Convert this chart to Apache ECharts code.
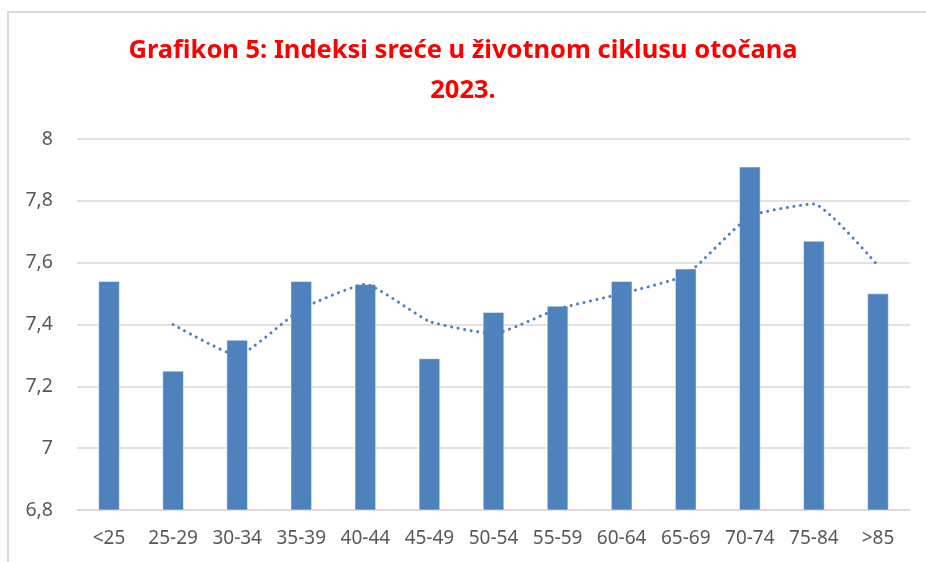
<!DOCTYPE html>
<html>
<head>
<meta charset="utf-8">
<script src="https://cdn.jsdelivr.net/npm/echarts@6/dist/echarts.min.js"></script>
<style>
  html, body { margin: 0; padding: 0; background: #fff; }
  #chart { width: 926px; height: 562px; }
</style>
</head>
<body>
<div id="chart"></div>
<script>
// kategorije dobi
const ageGroups = ['<25', '25-29', '30-34', '35-39', '40-44', '45-49', '50-54', '55-59', '60-64', '65-69', '70-74', '75-84', '>85']
// indeks sreće po dobnoj skupini
const happiness = [7.54, 7.25, 7.35, 7.54, 7.53, 7.29, 7.44, 7.46, 7.54, 7.58, 7.91, 7.67, 7.50]
// točkasta linija trenda (očitano sa slike)
const trend = [null, 7.40, 7.30, 7.45, 7.53, 7.41, 7.37, 7.45, 7.50, 7.56, 7.75, 7.79, 7.59]

const chart = echarts.init(document.getElementById('chart'))
chart.setOption({
  animation: false,
  title: {
    text: 'Grafikon 5: Indeksi sreće u životnom ciklusu otočana\n2023.',
    left: 'center',
    top: 26,
    textStyle: { color: '#ff0000', fontFamily: 'Noto Sans', fontWeight: 'bold', fontSize: 25.5, lineHeight: 40 }
  },
  graphic: [{
    type: 'rect',
    shape: { x: 8, y: 12, width: 940, height: 600 },
    style: { fill: 'none', stroke: '#d9d9d9', lineWidth: 2 }
  }],
  grid: { left: 77, right: 16, top: 139, bottom: 52 },
  xAxis: {
    type: 'category',
    data: ageGroups,
    axisLine: { lineStyle: { color: '#d9d9d9', width: 1.5 } },
    axisTick: { show: false },
    axisLabel: { interval: 0, color: '#595959', fontSize: 19, fontFamily: 'Noto Sans', margin: 19 }
  },
  yAxis: {
    type: 'value',
    min: 6.8, max: 8, interval: 0.2,
    axisLine: { show: false },
    axisTick: { show: false },
    splitLine: { lineStyle: { color: '#d9d9d9', width: 1.5 } },
    axisLabel: {
      color: '#595959', fontSize: 19.5, fontFamily: 'Noto Sans', margin: 24,
      formatter: v => String(Math.round(v * 10) / 10).replace('.', ',')
    }
  },
  series: [
    {
      type: 'bar',
      data: happiness,
      barWidth: '33%',
      itemStyle: { color: '#4f81bd', borderColor: '#ffffff', borderWidth: 0.5 }
    },
    {
      type: 'line',
      data: trend,
      smooth: 0.15,
      symbol: 'none',
      lineStyle: { color: '#4f81bd', width: 3, type: [0.1, 6.5], cap: 'round' }
    }
  ]
})
</script>
</body>
</html>
